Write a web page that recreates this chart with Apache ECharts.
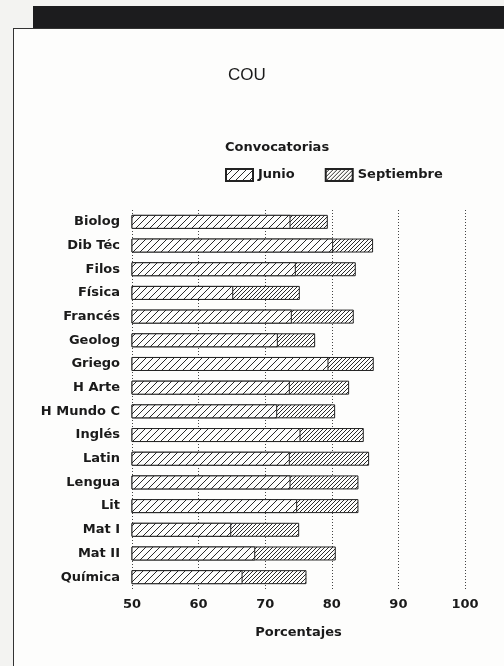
<!DOCTYPE html>
<html>
<head>
<meta charset="utf-8">
<script src="https://cdn.jsdelivr.net/npm/echarts@6/dist/echarts.min.js"></script>
<style>
  html, body { margin: 0; padding: 0; background: #f3f3f1; }
  #band { position: absolute; left: 33px; top: 6px; width: 480px; height: 23px; background: #1c1c1e; }
  #frame { position: absolute; left: 13px; top: 28px; width: 500px; height: 660px; background: #fdfdfc; border: 1.5px solid #333; }
  #chart { position: absolute; left: 0; top: 0; width: 504px; height: 666px; }
</style>
</head>
<body>
<div id="band"></div>
<div id="frame"></div>
<div id="chart"></div>
<script>
// asignaturas, de arriba abajo
const categories = ['Biolog', 'Dib Téc', 'Filos', 'Física', 'Francés', 'Geolog', 'Griego', 'H Arte',
  'H Mundo C', 'Inglés', 'Latin', 'Lengua', 'Lit', 'Mat I', 'Mat II', 'Química']
// % aprobados en junio
const junio = [73.8, 80.2, 74.6, 65.2, 74.0, 71.9, 79.5, 73.7, 71.8, 75.3, 73.7, 73.8, 74.8, 64.9, 68.5, 66.6]
// % acumulado tras septiembre
const septiembre = [79.4, 86.2, 83.6, 75.2, 83.3, 77.5, 86.3, 82.6, 80.5, 84.8, 85.6, 84.0, 84.0, 75.1, 80.6, 76.2]
const xTicks = [50, 60, 70, 80, 90, 100]

// rayado diagonal como patron
function hatch(step) {
  const c = document.createElement('canvas')
  c.width = step
  c.height = step
  const ctx = c.getContext('2d')
  ctx.fillStyle = '#fdfdfc'
  ctx.fillRect(0, 0, step, step)
  ctx.strokeStyle = '#2a2a2a'
  ctx.lineWidth = 1
  ctx.beginPath()
  ctx.moveTo(0, step)
  ctx.lineTo(step, 0)
  ctx.moveTo(-1, 1)
  ctx.lineTo(1, -1)
  ctx.moveTo(step - 1, step + 1)
  ctx.lineTo(step + 1, step - 1)
  ctx.stroke()
  return c
}

const myChart = echarts.init(document.getElementById('chart'))
const font = '"DejaVu Sans", "Liberation Sans", sans-serif'

const option = {
  backgroundColor: 'transparent',
  animation: false,
  textStyle: { fontFamily: font, color: '#1a1a1a' },
  graphic: [
    {
      type: 'text', left: 228, top: 67,
      style: { text: 'COU', font: '17px "Liberation Sans", Arial, sans-serif', fill: '#1a1a1a' }
    },
    {
      type: 'text', left: 225, top: 141,
      style: { text: 'Convocatorias', font: 'bold 13px ' + font, fill: '#1a1a1a' }
    }
  ],
  legend: {
    left: 225,
    top: 168,
    padding: 0,
    icon: 'rect',
    itemWidth: 27,
    itemHeight: 12,
    itemGap: 30,
    data: ['Junio', 'Septiembre'],
    textStyle: { fontFamily: font, fontWeight: 'bold', fontSize: 13, color: '#1a1a1a' }
  },
  grid: {
    left: 132,
    right: 39,
    top: 210,
    bottom: 77
  },
  xAxis: {
    type: 'value',
    min: xTicks[0],
    max: xTicks[xTicks.length - 1],
    interval: 10,
    name: 'Porcentajes',
    nameLocation: 'middle',
    nameGap: 37,
    nameTextStyle: { fontFamily: font, fontWeight: 'bold', fontSize: 13, color: '#1a1a1a' },
    axisLine: { show: false },
    axisTick: { show: false },
    axisLabel: { margin: 9, fontWeight: 'bold', fontSize: 13, color: '#1a1a1a' },
    splitLine: {
      show: true,
      lineStyle: { color: '#444', type: [1, 2], width: 1 }
    }
  },
  yAxis: {
    type: 'category',
    inverse: true,
    data: categories,
    axisLine: { show: false },
    axisTick: { show: false },
    axisLabel: { margin: 12, fontWeight: 'bold', fontSize: 13, color: '#1a1a1a' }
  },
  series: [
    {
      name: 'Septiembre',
      type: 'bar',
      data: septiembre,
      barWidth: 14,
      z: 2,
      itemStyle: {
        color: { image: hatch(4), repeat: 'repeat' },
        borderColor: '#222',
        borderWidth: 1
      }
    },
    {
      name: 'Junio',
      type: 'bar',
      data: junio,
      barWidth: 14,
      barGap: '-100%',
      z: 3,
      itemStyle: {
        color: { image: hatch(7), repeat: 'repeat' },
        borderColor: '#222',
        borderWidth: 1
      }
    }
  ]
}
myChart.setOption(option)
</script>
</body>
</html>
